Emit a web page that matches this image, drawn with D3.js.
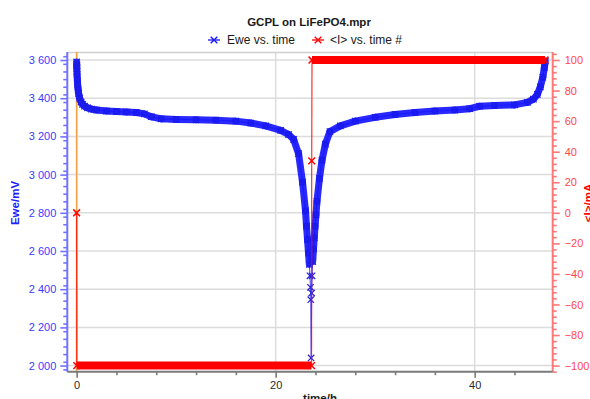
<!DOCTYPE html>
<html><head><meta charset="utf-8">
<script src="https://cdn.jsdelivr.net/npm/d3@7"></script>
<style>
html,body{margin:0;padding:0;background:#fff;overflow:hidden}
svg{display:block;font-family:"Liberation Sans",Arial,sans-serif}
</style></head>
<body><svg id="c" width="590" height="399"></svg>
<script>
// ---- data ----
const title = "GCPL on LiFePO4.mpr";
const seriesNames = ["Ewe vs. time", "<I> vs. time #"];
const eweTime = [0, 0.01, 0.02, 0.04, 0.07, 0.1, 0.15, 0.2, 0.3, 0.45, 0.6, 0.8, 1.1, 1.5, 2.0, 3.0, 4.0, 5.0, 6.0, 6.8, 7.5, 8.5, 10, 12, 14, 16, 17.5, 19, 20.5, 21.3, 21.8, 22.3, 22.7, 23.0, 23.1, 23.2, 23.3, 23.38, 23.45, 23.5, 23.53, 23.56, 23.62, 23.66, 23.72, 23.8, 23.88, 23.96, 24.05, 24.15, 24.4, 24.66, 25.0, 25.45, 26.5, 28, 30, 32, 34, 36, 38, 39.5, 40.5, 42, 44, 45.3, 45.9, 46.3, 46.6, 46.85, 47.0, 47.1];
const eweMV  = [3590, 3575, 3555, 3525, 3495, 3470, 3445, 3425, 3400, 3380, 3368, 3358, 3350, 3343, 3338, 3333, 3330, 3328, 3325, 3318, 3303, 3292, 3289, 3287, 3285, 3280, 3270, 3255, 3232, 3210, 3185, 3110, 2960, 2810, 2730, 2660, 2590, 2530, 2470, 2410, 2345, 2040, 2380, 2470, 2545, 2610, 2670, 2730, 2790, 2860, 2980, 3076, 3160, 3225, 3255, 3280, 3300, 3315, 3325, 3333, 3338, 3345, 3358, 3362, 3365, 3378, 3395, 3420, 3460, 3510, 3560, 3595];
const curTime = [0, 0.01, 23.6, 23.62, 23.65, 47.07];
const curMA   = [0, -100, -100, 34, 100, 100];
const xMajor = [0, 20, 40];
const xMinor = [4, 8, 12, 16, 24, 28, 32, 36, 44];
const yLMajor = [2000, 2200, 2400, 2600, 2800, 3000, 3200, 3400, 3600];
const yRMajor = [-100, -80, -60, -40, -20, 0, 20, 40, 60, 80, 100];
const xTitle = "time/h", yLTitle = "Ewe/mV", yRTitle = "<I>/mA";

// ---- style ----
const BLUE = "#1616ff", RED = "#ff0000";
const BAND_MIN = 2520; // Ewe points below this are sparse (no dense band)
const L = 67.3, R = 552.7, T = 52, B = 371.7;

const svg = d3.select("#c");
const x = d3.scaleLinear().domain([-0.94, 47.84]).range([L, R]);
const yL = d3.scaleLinear().domain([1968, 3642]).range([B, T]);
const yR = d3.scaleLinear().domain([-104, 105.25]).range([B, T]);

// grid
const g = svg.append("g");
g.selectAll(".hg").data(yLMajor).join("line")
  .attr("x1", L).attr("x2", R).attr("y1", d => yL(d)).attr("y2", d => yL(d))
  .attr("stroke", "#dcdcdc").attr("stroke-width", 1.5);
g.selectAll(".vg").data(xMajor).join("line")
  .attr("y1", T).attr("y2", B).attr("x1", d => x(d)).attr("x2", d => x(d))
  .attr("stroke", "#dcdcdc").attr("stroke-width", 1.5);
g.append("line").attr("x1", L).attr("x2", R).attr("y1", T + 0.5).attr("y2", T + 0.5)
  .attr("stroke", "#d0d0d0").attr("stroke-width", 1.5);

// orange zero line
svg.append("line").attr("x1", x(0)).attr("x2", x(0)).attr("y1", T).attr("y2", B)
  .attr("stroke", "#f3a24a").attr("stroke-width", 1.6);

// axes
function styleAxis(sel, lineCol, textCol) {
  sel.select(".domain").attr("stroke", lineCol).attr("stroke-width", 2);
  sel.selectAll(".tick line").attr("stroke", lineCol).attr("stroke-width", 1.6);
  sel.selectAll(".tick text").attr("fill", textCol).attr("font-size", 11)
     .attr("font-family", '"Liberation Sans",Arial,sans-serif');
}
const fmtL = d => d3.format(",")(d).replace(",", " ");
const yLMinor = d3.range(1980, 3641, 40).filter(v => !yLMajor.includes(v) && v >= 1968);
const yRMinor = d3.range(-104, 105, 4).filter(v => !yRMajor.includes(v));

const axL = svg.append("g").attr("transform", `translate(${L},0)`)
  .call(d3.axisLeft(yL).tickValues(yLMajor).tickSize(7).tickPadding(4).tickFormat(fmtL));
styleAxis(axL, "#7272ff", "#3b3bff");
axL.select(".domain").attr("d", `M0,${T}V${B}`);
svg.append("g").attr("transform", `translate(${L},0)`)
  .call(d3.axisLeft(yL).tickValues(yLMinor).tickSize(4).tickFormat(""))
  .call(s => { s.select(".domain").remove(); s.selectAll("line").attr("stroke", "#7272ff").attr("stroke-width", 1.6); });

const axR = svg.append("g").attr("transform", `translate(${R},0)`)
  .call(d3.axisRight(yR).tickValues(yRMajor).tickSize(7).tickPadding(5));
styleAxis(axR, "#ff7777", "#ff4848");
axR.select(".domain").attr("d", `M0,${T}V${B}`);
svg.append("g").attr("transform", `translate(${R},0)`)
  .call(d3.axisRight(yR).tickValues(yRMinor).tickSize(4).tickFormat(""))
  .call(s => { s.select(".domain").remove(); s.selectAll("line").attr("stroke", "#ff7777").attr("stroke-width", 1.6); });

const axB = svg.append("g").attr("transform", `translate(0,${B})`)
  .call(d3.axisBottom(x).tickValues(xMajor).tickSize(6).tickPadding(4));
styleAxis(axB, "#7a7a7a", "#2a2a2a");
axB.select(".domain").attr("d", `M${L},0H${R}`);
svg.append("g").attr("transform", `translate(0,${B})`)
  .call(d3.axisBottom(x).tickValues(xMinor).tickSize(3.5).tickFormat(""))
  .call(s => { s.select(".domain").remove(); s.selectAll("line").attr("stroke", "#7a7a7a").attr("stroke-width", 1.6); });

// marker
function cross(sel, cx, cy, col, r, w) {
  sel.append("path").attr("d", `M${cx - r},${cy - r}L${cx + r},${cy + r}M${cx - r},${cy + r}L${cx + r},${cy - r}`)
    .attr("stroke", col).attr("stroke-width", w).attr("fill", "none");
}

// Ewe series
const ewe = eweTime.map((t, i) => [t, eweMV[i]]);
const plot = svg.append("g");
const lineL = d3.line().x(d => x(d[0])).y(d => yL(d[1]));
for (let i = 0; i < ewe.length - 1; i++) {
  const a = ewe[i], b = ewe[i + 1];
  const dense = a[1] >= BAND_MIN && b[1] >= BAND_MIN;
  if (dense) plot.append("path").attr("d", lineL([a, b])).attr("fill", "none")
    .attr("stroke", BLUE).attr("stroke-width", 7)
    .attr("stroke-linejoin", "round").attr("stroke-linecap", "round").attr("opacity", 0.92);
}
plot.append("path").attr("d", lineL(ewe)).attr("fill", "none").attr("stroke", BLUE).attr("stroke-width", 1.1).attr("opacity", 0.75);
ewe.forEach(d => cross(plot, x(d[0]), yL(d[1]), "#2020e0", 3.2, 1.2));

// current series
const cur = curTime.map((t, i) => [t, curMA[i]]);
const lineR = d3.line().x(d => x(d[0])).y(d => yR(d[1]));
for (let i = 0; i < cur.length - 1; i++) {
  const a = cur[i], b = cur[i + 1];
  const flat = a[1] === b[1];
  plot.append("path").attr("d", lineR([a, b])).attr("fill", "none")
    .attr("stroke", RED).attr("stroke-width", flat ? 8 : 1.3)
    .attr("stroke-linecap", "butt").attr("opacity", flat ? 1 : 0.75);
}
cur.forEach(d => cross(plot, x(d[0]), yR(d[1]), RED, 3.4, 1.5));

// titles
svg.append("text").attr("x", 309).attr("y", 25.5).attr("text-anchor", "middle")
  .attr("font-size", 11.5).attr("font-weight", "bold").attr("fill", "#1a1a1a").text(title);

// legend
const lg = svg.append("g");
[[214, BLUE, seriesNames[0], 227], [318, RED, seriesNames[1], 330]].forEach(([mx, col, txt, tx]) => {
  lg.append("line").attr("x1", mx - 6).attr("x2", mx + 6).attr("y1", 40).attr("y2", 40).attr("stroke", col).attr("stroke-width", 1.3);
  cross(lg, mx, 40, col, 3.3, 1.4);
  lg.append("text").attr("x", tx).attr("y", 44).attr("font-size", 12).attr("fill", "#1a1a1a").text(txt);
});

svg.append("text").attr("transform", `translate(18.5,203) rotate(-90)`).attr("text-anchor", "middle")
  .attr("font-size", 11.5).attr("font-weight", "bold").attr("fill", "#2020ff").text(yLTitle);
svg.append("text").attr("transform", `translate(592,203) rotate(-90)`).attr("text-anchor", "middle")
  .attr("font-size", 11.5).attr("font-weight", "bold").attr("fill", RED).text(yRTitle);
svg.append("text").attr("x", 320).attr("y", 402).attr("text-anchor", "middle")
  .attr("font-size", 11.5).attr("font-weight", "bold").attr("fill", "#1a1a1a").text(xTitle);
</script></body></html>
